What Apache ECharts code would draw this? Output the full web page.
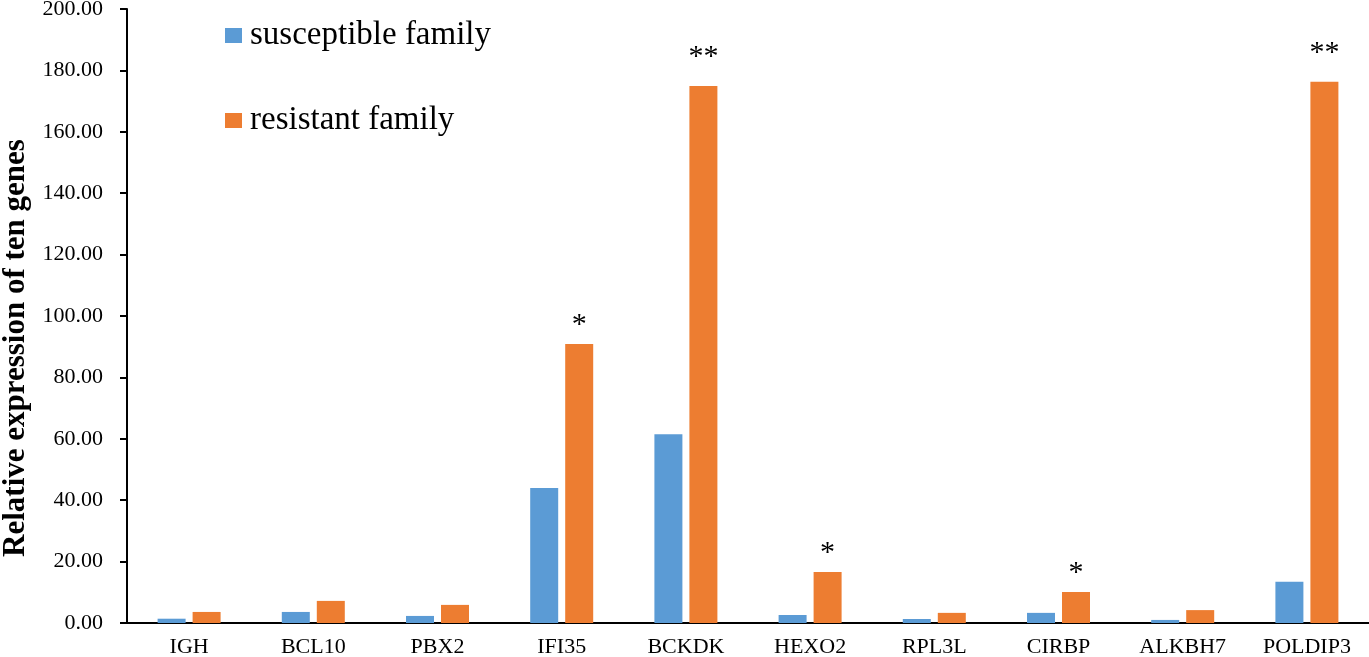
<!DOCTYPE html>
<html>
<head>
<meta charset="utf-8">
<script src="https://cdn.jsdelivr.net/npm/echarts@6/dist/echarts.min.js"></script>
<style>
  html, body { margin: 0; padding: 0; background: #fff; }
  #chart { width: 1369px; height: 657px; }
</style>
</head>
<body>
<div id="chart"></div>
<script>
// 基因名
const genes = ['IGH', 'BCL10', 'PBX2', 'IFI35', 'BCKDK', 'HEXO2', 'RPL3L', 'CIRBP', 'ALKBH7', 'POLDIP3'];
// 两个家系的相对表达量
const susceptible = [1.4, 3.6, 2.3, 44.0, 61.5, 2.6, 1.3, 3.3, 1.0, 13.4];
const resistant = [3.6, 7.2, 5.9, 90.9, 174.9, 16.6, 3.3, 10.1, 4.2, 176.3];
// 显著性标记
const marks = ['', '', '', '*', '**', '*', '', '*', '', '**'];

const serif = '"Liberation Serif", "Times New Roman", serif';

const chart = echarts.init(document.getElementById('chart'));
const option = {
    animation: false,
    textStyle: { fontFamily: serif },
    legend: {
        orient: 'vertical',
        left: 220,
        top: 14,
        itemGap: 52,
        itemWidth: 17,
        itemHeight: 15,
        icon: 'rect',
        textStyle: { fontFamily: serif, fontSize: 33, color: '#000', padding: [0, 0, 0, 3] },
        data: ['susceptible family', 'resistant family']
    },
    grid: {
        left: 127,
        right: 0,
        top: 9,
        bottom: 34,
        outerBoundsMode: 'none',
        containLabel: false
    },
    xAxis: {
        type: 'category',
        data: genes,
        axisLine: { lineStyle: { color: '#000', width: 2 } },
        axisTick: { show: false },
        axisLabel: { color: '#000', fontFamily: serif, fontSize: 22, margin: 13 }
    },
    yAxis: {
        type: 'value',
        min: 0,
        max: 200,
        interval: 20,
        name: 'Relative expression of ten genes',
        nameLocation: 'middle',
        nameGap: 94,
        nameTextStyle: {
            color: '#000',
            fontFamily: serif,
            fontSize: 31,
            fontWeight: 'bold',
            padding: [0, 64, 0, 0]
        },
        axisLine: { show: true, lineStyle: { color: '#000', width: 2 } },
        axisTick: { show: true, length: 7, lineStyle: { color: '#000', width: 2 } },
        axisLabel: {
            color: '#000',
            fontFamily: serif,
            fontSize: 22,
            margin: 24,
            formatter: v => v.toFixed(2)
        },
        splitLine: { show: false }
    },
    series: [
        {
            name: 'susceptible family',
            type: 'bar',
            data: susceptible,
            barWidth: 28,
            barGap: '25%',
            itemStyle: { color: '#5B9BD5' }
        },
        {
            name: 'resistant family',
            type: 'bar',
            data: resistant.map((v, i) => ({
                value: v,
                label: { distance: marks[i].length > 1 ? 14 : 4 }
            })),
            barWidth: 28,
            itemStyle: { color: '#ED7D31' },
            label: {
                show: true,
                position: 'top',
                fontFamily: serif,
                fontSize: 30,
                color: '#000',
                formatter: p => marks[p.dataIndex]
            }
        }
    ]
};
chart.setOption(option);
</script>
</body>
</html>
